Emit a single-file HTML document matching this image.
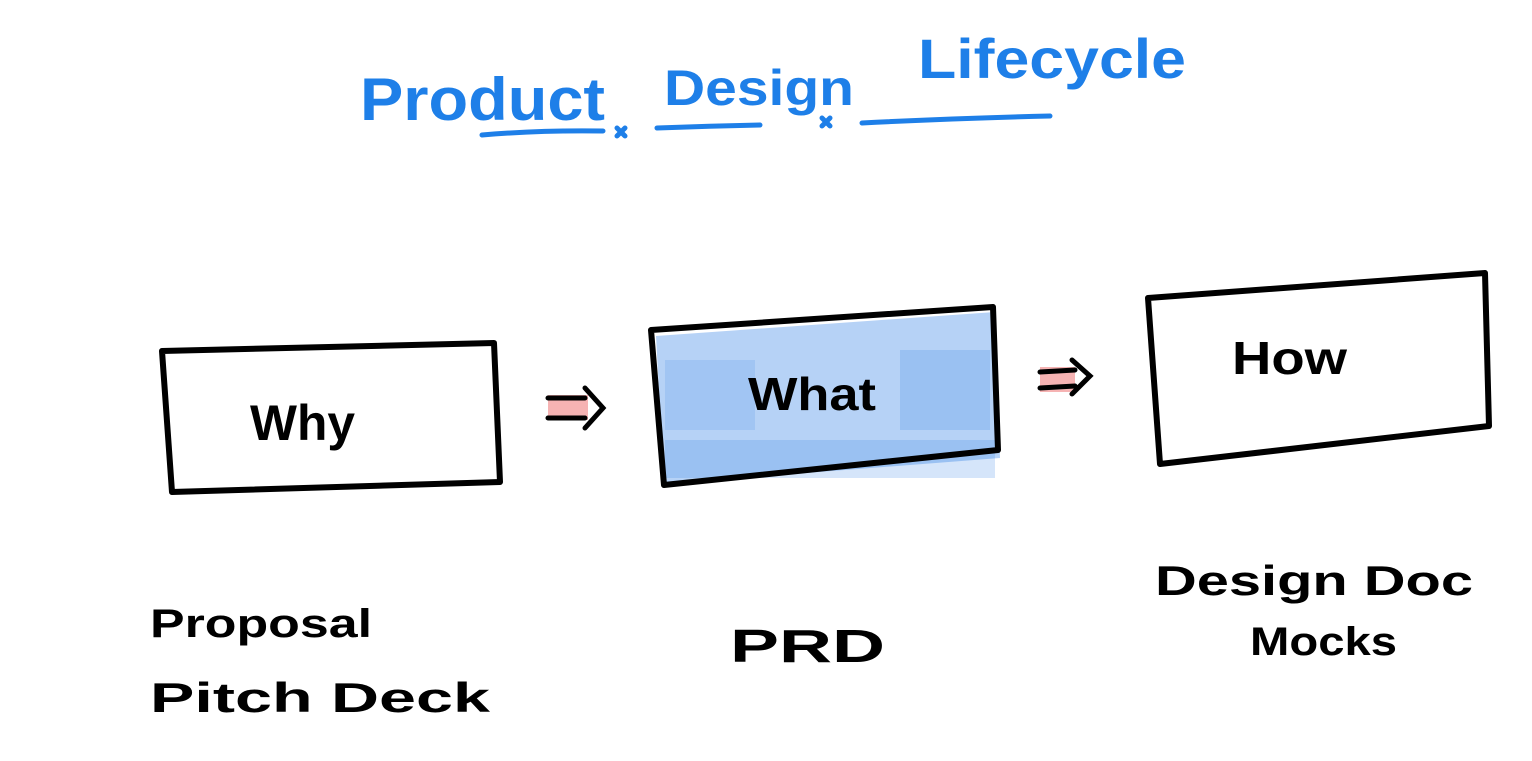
<!DOCTYPE html>
<html><head><meta charset="utf-8"><style>
html,body{margin:0;padding:0;background:#fff;width:1532px;height:761px;overflow:hidden}
svg{display:block}
text{font-family:"Liberation Sans",sans-serif;font-weight:bold}
</style></head><body>
<svg width="1532" height="761" viewBox="0 0 1532 761" xmlns="http://www.w3.org/2000/svg">
<g fill="#1e7fe8" style="font-weight:600">
<text x="360" y="120" font-size="60" textLength="245" lengthAdjust="spacingAndGlyphs">Product</text>
<text x="664" y="105" font-size="50" textLength="190" lengthAdjust="spacingAndGlyphs">Design</text>
<text x="918" y="78" font-size="56" textLength="268" lengthAdjust="spacingAndGlyphs">Lifecycle</text>
</g>
<g stroke="#1e7fe8" stroke-width="5" stroke-linecap="round" fill="none">
<path d="M482 135 Q540 130 603 131"/>
<path d="M657 128 Q710 126 760 125"/>
<path d="M862 123 Q960 118 1050 116"/>
<path d="M617 128 l8 8 M625 128 l-8 8"/>
<path d="M822 118 l8 8 M830 118 l-8 8"/>
</g>
<g fill="#2f7de6">
<path d="M656 336 L995 312 L1000 458 L664 484 Z" opacity="0.35"/>
<rect x="665" y="440" width="330" height="38" opacity="0.2"/>
<rect x="900" y="350" width="90" height="80" opacity="0.2"/>
<rect x="665" y="360" width="90" height="70" opacity="0.15"/>
</g>
<g stroke="#000" stroke-width="6" fill="none" stroke-linejoin="round" stroke-linecap="round">
<path d="M162 351 L494 343 L500 482 L172 492 Z"/>
<path d="M651 330 L993 307 L998 450 L664 485 Z"/>
<path d="M1148 298 L1485 273 L1489 426 L1160 464 Z"/>
</g>
<g>
<rect x="548" y="395" width="40" height="25" fill="#f4a0a0" opacity="0.8"/>
<path d="M548 398 L585 398 M548 418 L585 418 M585 388 L603 408 L585 428" stroke="#000" stroke-width="5" fill="none" stroke-linecap="round"/>
<rect x="1040" y="367" width="35" height="25" fill="#f4a0a0" opacity="0.8"/>
<path d="M1040 372 L1075 370 M1040 388 L1075 386 M1072 360 L1090 376 L1072 394" stroke="#000" stroke-width="5" fill="none" stroke-linecap="round"/>
</g>
<g fill="#000">
<text x="250" y="440" font-size="50" textLength="105" lengthAdjust="spacingAndGlyphs">Why</text>
<text x="748" y="410" font-size="46" textLength="128" lengthAdjust="spacingAndGlyphs">What</text>
<text x="1232" y="374" font-size="46" textLength="115" lengthAdjust="spacingAndGlyphs">How</text>
<text x="150" y="637" font-size="40" textLength="222" lengthAdjust="spacingAndGlyphs">Proposal</text>
<text x="150" y="712" font-size="42" textLength="340" lengthAdjust="spacingAndGlyphs">Pitch Deck</text>
<text x="730" y="662" font-size="46" textLength="155" lengthAdjust="spacingAndGlyphs">PRD</text>
<text x="1155" y="595" font-size="42" textLength="318" lengthAdjust="spacingAndGlyphs">Design Doc</text>
<text x="1250" y="655" font-size="40" textLength="147" lengthAdjust="spacingAndGlyphs">Mocks</text>
</g>
</svg>
</body></html>
